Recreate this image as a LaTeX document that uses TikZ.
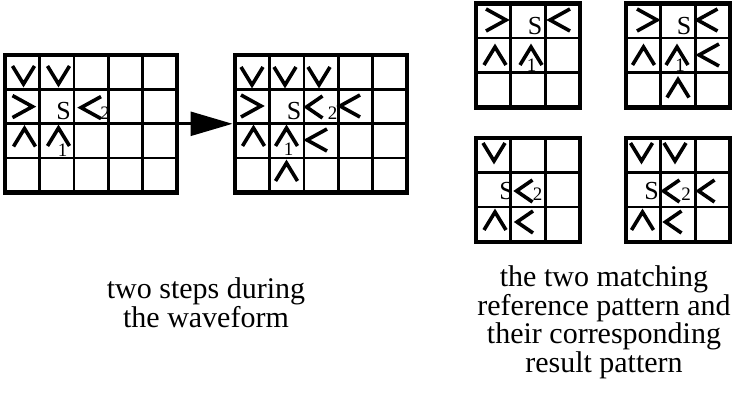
\documentclass[tikz,border=0pt]{standalone}
\usepackage{fontspec}
\setmainfont{Liberation Serif}
\usetikzlibrary{arrows.meta}

% a cols x rows board: inner rules, a heavy frame node, and named cell centres
\newcommand{\cellgrid}[6]{% #1 name, #2 left, #3 top, #4 cols, #5 rows, #6 cell size
  \pgfmathsetmacro\gw{#4*#6}%
  \pgfmathsetmacro\gh{#5*#6}%
  \pgfmathtruncatemacro\gcols{#4-1}%
  \pgfmathtruncatemacro\grows{#5-1}%
  \foreach \i in {1,...,\gcols} \draw[innerline] ({#2+\i*#6},#3) -- ++(0,\gh);
  \foreach \j in {1,...,\grows} \draw[innerline] (#2,{#3+\j*#6}) -- ++(\gw,0);
  \node[frame, minimum width=\gw pt, minimum height=\gh pt] (#1) at (#2,#3) {};
  \foreach \i in {0,...,\gcols} \foreach \j in {0,...,\grows}
    \coordinate (#1-\i-\j) at ({#2+(\i+0.5)*#6},{#3+(\j+0.5)*#6});
}

\tikzset{
  frame/.style={draw, line width=4.5pt, inner sep=0pt, outer sep=0pt, anchor=north west},
  innerline/.style={line width=2.6pt},
  chev/.style={line width=3.6pt, line join=miter, line cap=butt},
  letter/.style={font=\fontsize{26}{26}\selectfont, inner sep=0pt, anchor=base},
  digit/.style={font=\fontsize{19}{19}\selectfont, inner sep=0pt, anchor=base},
  caption/.style={font=\fontsize{30}{27}\selectfont, align=center, inner sep=0pt},
  flow/.style={line width=2.6pt, shorten >=2.5pt, -{Triangle[length=42pt, width=24pt]}},
  pics/dn/.style={code={\draw[chev] (-11,-9) -- (0,9) -- (11,-9);}},
  pics/up/.style={code={\draw[chev] (-11,9) -- (0,-9) -- (11,9);}},
  pics/rt/.style={code={\draw[chev] (-10,-11) -- (10,0) -- (-10,11);}},
  pics/lt/.style={code={\draw[chev] (10,-11) -- (-10,0) -- (10,11);}},
}

\begin{document}
\begin{tikzpicture}[x=1pt, y=-1pt]
\useasboundingbox (0,0) rectangle (734,398);

% ---- two steps of the wave ----
\cellgrid{L}{5}{55}{5}{4}{34.4}
\cellgrid{M}{235}{55}{5}{4}{34.4}

\pic at ([shift={(1.3,2.8)}]L-0-0) {dn};
\pic at ([shift={(1.9,2.8)}]L-1-0) {dn};
\pic at ([shift={(0.3,0)}]L-0-1) {rt};
\node[letter] (Ls) at ([shift={(6.9,13.4)}]L-1-1) {S};
\pic at ([shift={(0,1)}]L-2-1) {lt};
\node[digit] (L2) at ([shift={(14,13.4)}]L-2-1) {2};
\pic at ([shift={(2.3,-3.5)}]L-0-2) {up};
\pic at ([shift={(1.9,-4)}]L-1-2) {up};
\node[digit] (L1) at ([shift={(5.9,16)}]L-1-2) {1};

\pic at ([shift={(-0.2,3.8)}]M-0-0) {dn};
\pic at ([shift={(-1.6,3.8)}]M-1-0) {dn};
\pic at ([shift={(-2,3.8)}]M-2-0) {dn};
\pic at ([shift={(-1.2,-0.6)}]M-0-1) {rt};
\node[letter] (Ms) at ([shift={(7.4,13.4)}]M-1-1) {S};
\pic[xscale=0.8] at ([shift={(-6.5,0.4)}]M-2-1) {lt};
\node[digit] (M2) at ([shift={(11.5,13.4)}]M-2-1) {2};
\pic at ([shift={(-5.4,-0.6)}]M-3-1) {lt};
\pic at ([shift={(1.3,-4)}]M-0-2) {up};
\pic at ([shift={(-0.1,-4)}]M-1-2) {up};
\node[digit] (M1) at ([shift={(1.9,15)}]M-1-2) {1};
\pic at ([shift={(-4,-1)}]M-2-2) {lt};
\pic at ([shift={(-0.1,-3.4)}]M-1-3) {up};

\draw[flow] (L.east) -- (M.west);

% ---- matching reference patterns and their results ----
\cellgrid{TL}{476}{3.5}{3}{3}{34.6}
\cellgrid{TR}{626}{3.5}{3}{3}{34.6}
\cellgrid{BL}{476}{138}{3}{3}{34.6}
\cellgrid{BR}{626}{138}{3}{3}{34.6}

\pic at ([shift={(2.7,-0.8)}]TL-0-0) {rt};
\node[letter] (TLs) at ([shift={(7.1,14.2)}]TL-1-0) {S};
\pic at ([shift={(-2.5,-0.8)}]TL-2-0) {lt};
\pic at ([shift={(1.7,0.6)}]TL-0-1) {up};
\pic at ([shift={(3.1,0.6)}]TL-1-1) {up};
\node[digit] (TL1) at ([shift={(3.6,16.6)}]TL-1-1) {1};

\pic at ([shift={(3.7,-0.8)}]TR-0-0) {rt};
\node[letter] (TRs) at ([shift={(6.1,14.2)}]TR-1-0) {S};
\pic at ([shift={(-5,-0.8)}]TR-2-0) {lt};
\pic at ([shift={(0.2,0.6)}]TR-0-1) {up};
\pic at ([shift={(-0.9,0.6)}]TR-1-1) {up};
\node[digit] (TR1) at ([shift={(2.1,16.6)}]TR-1-1) {1};
\pic at ([shift={(-3.5,-0.4)}]TR-2-1) {lt};
\pic at ([shift={(0.1,-1.5)}]TR-1-2) {up};

\pic at ([shift={(0.7,-3.3)}]BL-0-0) {dn};
\node[letter] (BLs) at ([shift={(13.2,10.1)}]BL-0-1) {S};
\pic[xscale=0.8] at ([shift={(-3.4,1.1)}]BL-1-1) {lt};
\node[digit] (BL2) at ([shift={(9.6,11)}]BL-1-1) {2};
\pic at ([shift={(1.7,-3.5)}]BL-0-2) {up};
\pic[xscale=0.8] at ([shift={(-2.9,-2.5)}]BL-1-2) {lt};

\pic at ([shift={(-1.8,-3.3)}]BR-0-0) {dn};
\pic at ([shift={(-2.9,-3.3)}]BR-1-0) {dn};
\node[letter] (BRs) at ([shift={(8.2,10.1)}]BR-0-1) {S};
\pic[xscale=0.8] at ([shift={(-6.4,1.1)}]BR-1-1) {lt};
\node[digit] (BR2) at ([shift={(8.1,11)}]BR-1-1) {2};
\pic[xscale=0.8] at ([shift={(-6,1.1)}]BR-2-1) {lt};
\pic at ([shift={(-0.8,-3.5)}]BR-0-2) {up};
\pic[xscale=0.8] at ([shift={(-4.4,-2.5)}]BR-1-2) {lt};

% ---- captions (anchored at the baseline of their last line) ----
\node[caption, anchor=base] (capL) at (206,327) {two steps during\\the waveform};
\node[caption, anchor=base] (capR) at (604,372) {the two matching\\reference pattern and\\their corresponding\\result pattern};
\end{tikzpicture}
\end{document}
